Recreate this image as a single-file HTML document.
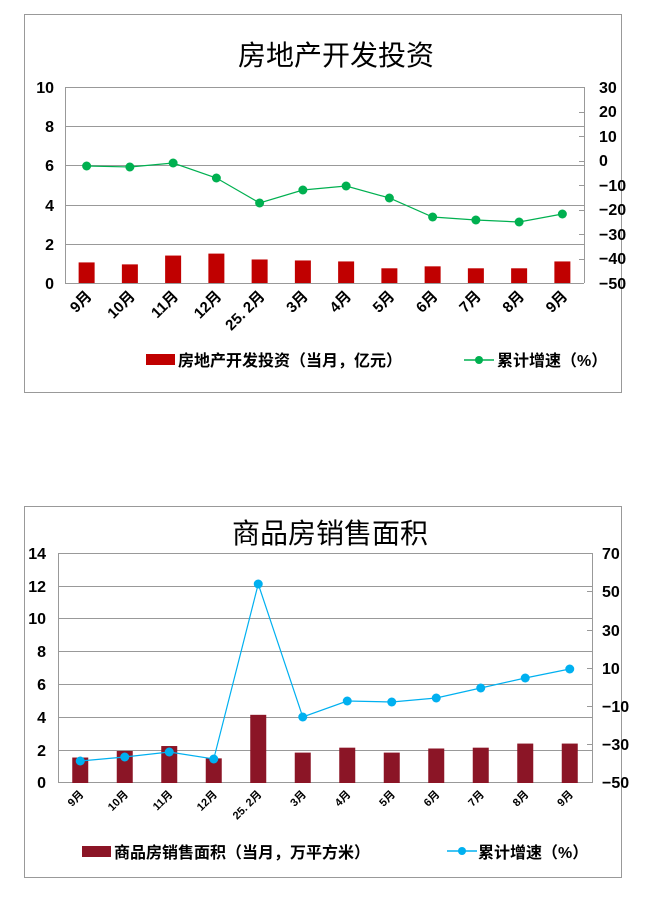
<!DOCTYPE html><html><head><meta charset="utf-8"><style>body{margin:0;background:#fff}svg text{font-family:"Liberation Sans","Noto Sans CJK SC",sans-serif}</style></head><body>
<svg width="663" height="894" xmlns="http://www.w3.org/2000/svg">
<rect x="24.5" y="14.5" width="597" height="378" fill="#fff" stroke="#999"/>
<text x="336" y="65" font-size="28" text-anchor="middle">房地产开发投资</text>
<g stroke="#999" stroke-width="1">
<line x1="65" y1="87.5" x2="584" y2="87.5"/><line x1="65" y1="126.5" x2="584" y2="126.5"/><line x1="65" y1="165.5" x2="584" y2="165.5"/><line x1="65" y1="205.5" x2="584" y2="205.5"/><line x1="65" y1="244.5" x2="584" y2="244.5"/><line x1="65" y1="283.5" x2="584" y2="283.5"/>
<line x1="65.5" y1="87" x2="65.5" y2="283"/><line x1="584.5" y1="87" x2="584.5" y2="283"/>
<line x1="579" y1="112.5" x2="584" y2="112.5"/><line x1="579" y1="136.5" x2="584" y2="136.5"/><line x1="579" y1="161.5" x2="584" y2="161.5"/><line x1="579" y1="185.5" x2="584" y2="185.5"/><line x1="579" y1="210.5" x2="584" y2="210.5"/><line x1="579" y1="234.5" x2="584" y2="234.5"/><line x1="579" y1="259.5" x2="584" y2="259.5"/>
</g>
<g font-size="16" font-weight="bold" text-anchor="end"><text x="54" y="93">10</text><text x="54" y="132">8</text><text x="54" y="171">6</text><text x="54" y="211">4</text><text x="54" y="250">2</text><text x="54" y="289">0</text></g>
<g font-size="16" font-weight="bold" text-anchor="start"><text x="599" y="93">30</text><text x="599" y="117">20</text><text x="599" y="142">10</text><text x="599" y="166">0</text><text x="599" y="191">−10</text><text x="599" y="215">−20</text><text x="599" y="240">−30</text><text x="599" y="264">−40</text><text x="599" y="289">−50</text></g>
<g fill="#c00000" id="b1"></g>
<polyline id="l1" fill="none" stroke="#00b050" stroke-width="1.2"/>
<g id="p1" fill="#00b050"></g>
<g id="x1" font-size="15" font-weight="bold" text-anchor="end"></g>
<rect x="146" y="354" width="29" height="11" fill="#c00000"/>
<text x="178" y="366" font-size="16" font-weight="bold">房地产开发投资（当月，亿元）</text>
<line x1="464" y1="360" x2="494" y2="360" stroke="#00b050" stroke-width="1.5"/><circle cx="479" cy="360" r="4" fill="#00b050"/>
<text x="497" y="366" font-size="16" font-weight="bold">累计增速（%）</text>

<rect x="24.5" y="506.5" width="597" height="371" fill="#fff" stroke="#999"/>
<text x="330" y="543" font-size="28" text-anchor="middle">商品房销售面积</text>
<g stroke="#999" stroke-width="1">
<line x1="58" y1="553.5" x2="592" y2="553.5"/><line x1="58" y1="586.5" x2="592" y2="586.5"/><line x1="58" y1="618.5" x2="592" y2="618.5"/><line x1="58" y1="651.5" x2="592" y2="651.5"/><line x1="58" y1="684.5" x2="592" y2="684.5"/><line x1="58" y1="717.5" x2="592" y2="717.5"/><line x1="58" y1="750.5" x2="592" y2="750.5"/><line x1="58" y1="782.5" x2="592" y2="782.5"/>
<line x1="58.5" y1="553" x2="58.5" y2="783"/><line x1="592.5" y1="553" x2="592.5" y2="783"/>
<line x1="587" y1="591.5" x2="592" y2="591.5"/><line x1="587" y1="630.5" x2="592" y2="630.5"/><line x1="587" y1="668.5" x2="592" y2="668.5"/><line x1="587" y1="706.5" x2="592" y2="706.5"/><line x1="587" y1="744.5" x2="592" y2="744.5"/>
</g>
<g font-size="16" font-weight="bold" text-anchor="end"><text x="46" y="559">14</text><text x="46" y="592">12</text><text x="46" y="624">10</text><text x="46" y="657">8</text><text x="46" y="690">6</text><text x="46" y="723">4</text><text x="46" y="756">2</text><text x="46" y="788">0</text></g>
<g font-size="16" font-weight="bold" text-anchor="start"><text x="602" y="559">70</text><text x="602" y="597">50</text><text x="602" y="636">30</text><text x="602" y="674">10</text><text x="602" y="712">−10</text><text x="602" y="750">−30</text><text x="602" y="788">−50</text></g>
<g fill="#8b1526" id="b2"></g>
<polyline id="l2" fill="none" stroke="#00b0f0" stroke-width="1.2"/>
<g id="p2" fill="#00b0f0"></g>
<g id="x2" font-size="11" font-weight="bold" text-anchor="end"></g>
<rect x="82" y="846" width="29" height="11" fill="#8b1526"/>
<text x="114" y="858" font-size="16" font-weight="bold">商品房销售面积（当月，万平方米）</text>
<line x1="447" y1="851" x2="477" y2="851" stroke="#00b0f0" stroke-width="1.5"/><circle cx="462" cy="851" r="4" fill="#00b0f0"/>
<text x="478" y="858" font-size="16" font-weight="bold">累计增速（%）</text>
</svg>
<script>
var NS="http://www.w3.org/2000/svg";
function el(p,t,a,txt){var e=document.createElementNS(NS,t);for(var k in a)e.setAttribute(k,a[k]);if(txt)e.textContent=txt;document.getElementById(p).appendChild(e);}
var labs=["9月","10月","11月","12月","25. 2月","3月","4月","5月","6月","7月","8月","9月"];
var b1=[1.05,0.95,1.4,1.5,1.2,1.15,1.1,0.75,0.85,0.75,0.75,1.1];
var y1=[166,167,163,178,203,190,186,198,217,220,222,214];
var pts=[];
for(var i=0;i<12;i++){var cx=65+43.25*(i+0.5);var h=b1[i]*19.6;
el("b1","rect",{x:cx-8,y:283-h,width:16,height:h});pts.push(cx+","+y1[i]);
el("p1","circle",{cx:cx,cy:y1[i],r:4.5});
el("x1","text",{transform:"translate("+(cx+6)+",297) rotate(-45)"},labs[i]);}
document.getElementById("l1").setAttribute("points",pts.join(" "));
var b2=[1.55,1.95,2.25,1.5,4.15,1.85,2.15,1.85,2.1,2.15,2.4,2.4];
var y2=[761,757,752,759,584,717,701,702,698,688,678,669];
pts=[];
for(var i=0;i<12;i++){var cx=58+44.5*(i+0.5);var h=b2[i]*16.43;
el("b2","rect",{x:cx-8,y:783-h,width:16,height:h});pts.push(cx+","+y2[i]);
el("p2","circle",{cx:cx,cy:y2[i],r:4.5});
el("x2","text",{transform:"translate("+(cx+4)+",795) rotate(-45)"},labs[i]);}
document.getElementById("l2").setAttribute("points",pts.join(" "));
</script>
</body></html>
